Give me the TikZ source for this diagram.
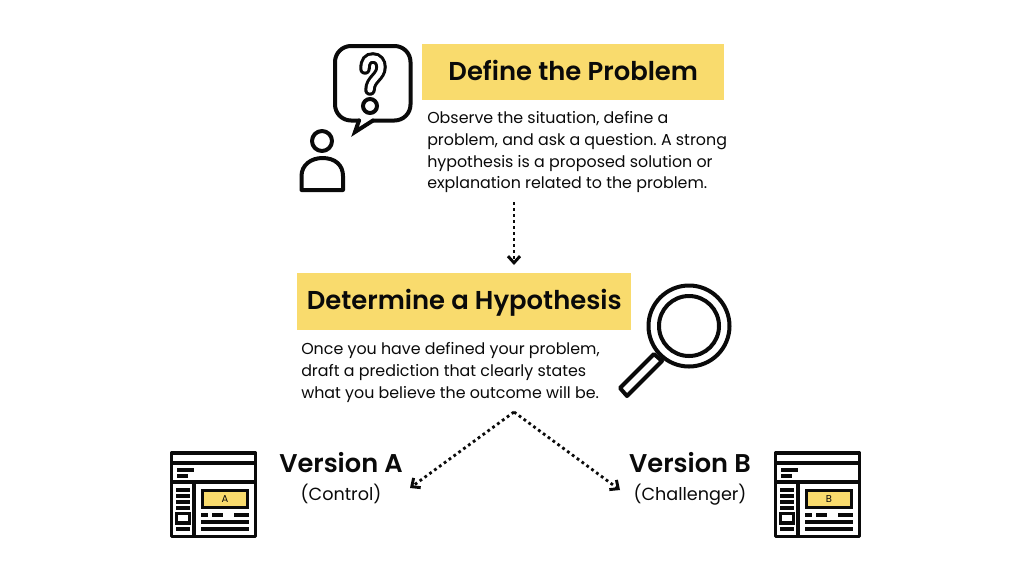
\documentclass[tikz,border=0pt]{standalone}
\usepackage{fontspec}
\setmainfont{Poppins}
\newfontfamily\semibold{Poppins SemiBold}
\usetikzlibrary{arrows.meta}
\usetikzlibrary{positioning}
\definecolor{myellow}{HTML}{F9DB6D}
\definecolor{mink}{HTML}{0A0A0A}

\begin{document}
\frenchspacing
\begin{tikzpicture}[x=0.75pt,y=-0.75pt,
		titlenode/.style={fill=myellow,text=mink,font=\semibold\fontsize{19.4}{22}\selectfont,inner sep=0pt,anchor=west,align=center,text height=15pt,text depth=3pt},
		bodynode/.style={text=mink,font=\fontsize{11.9}{16.4}\selectfont,align=left,inner sep=0pt},
		versionnode/.style={text=mink,font=\semibold\fontsize{19.25}{22}\selectfont,inner sep=0pt},
		rolenode/.style={text=mink,font=\fontsize{13.2}{16}\selectfont,inner sep=0pt},
		flowline/.style={draw=mink,line width=2.1pt,dash pattern=on 2.1pt off 2.4pt,-{Straight Barb[length=5pt,width=9pt,line width=2.2pt]}},
		iconline/.style={draw=mink,line width=3pt,line join=round,line cap=round},
		thinline/.style={draw=mink,line width=2.45pt}
	]
	\useasboundingbox (0,0) rectangle (1024,562);
	\fill[white] (0,0) rectangle (1024,562);

	% the two headings
	\node[titlenode,minimum width=226.5pt,minimum height=42pt] (define) at (422,72) {Define the Problem};
	\node[titlenode,minimum width=250.5pt,minimum height=43pt] (hypothesis) at (297,301.5) {Determine a Hypothesis};

	% the texts below them
	\node[bodynode,anchor=north west] (definetext) at (427,111) {Observe the situation, define a\\problem, and ask a question. A strong\\hypothesis is a proposed solution or\\explanation related to the problem.};
	\node[bodynode,anchor=north west] (hypothesistext) at (301,342) {Once you have defined your problem,\\draft a prediction that clearly states\\what you believe the outcome will be.};

	% the versions
	\node[versionnode] (versiona) at (341,463) {Version A};
	\node[rolenode,below=8pt of versiona.base] (control) {(Control)};
	\node[versionnode] (versionb) at (690,463) {Version B};
	\node[rolenode,below=8pt of versionb.base] (challenger) {(Challenger)};

	% the arrows
	\coordinate (definefoot) at (514,202);
	\coordinate (hypothesishead) at (514,265);
	\coordinate (split) at (514,412);
	\coordinate (lefthead) at (410,488);
	\coordinate (righthead) at (620,490);
	\draw[flowline] (definefoot) -- (hypothesishead);
	\draw[flowline] (split) -- (lefthead);
	\draw[flowline] (split) -- (righthead);

	% the speech bubble
	\draw[iconline,rounded corners=12pt] (359,120.5) -- (335,120.5) -- (335,46) -- (410.5,46) -- (410.5,120.5) -- (373,120.5);
	\draw[iconline,line join=miter] (359,120.5) -- (355,132) -- (373,120.5);
	\draw[draw=mink,line width=2.3pt,double=white,double distance=4pt,line cap=round]
		(365,69) .. controls (365,61) and (368,58) .. (373,58)
		.. controls (378,58) and (381,62) .. (381,67)
		.. controls (381,77) and (370,79) .. (370,90);
	\draw[draw=mink,line width=3pt] (370,106) circle (7);

	% the person
	\draw[iconline] (322,141) circle (10);
	\draw[iconline] (301.5,190) -- (301.5,176) .. controls (301.5,165) and (311,158) .. (322.5,158)
		.. controls (335,158) and (343,165) .. (343,176) -- (343,190) -- cycle;

	% the magnifier
	\draw[iconline] (689,326) circle (40.5);
	\draw[iconline] (689,326) circle (30);
	\draw[iconline] (654,354) -- (662,361) -- (627,396) -- (620,388) -- cycle;

	% the two pages
	\foreach \xoff/\letter in {0/A,604/B}
	{
		\begin{scope}[xshift=\xoff*0.75pt]
			\draw[thinline,line join=round] (171.5,453) rectangle (255.5,536.5);
			\draw[thinline] (171,463) -- (256,463);
			\draw[thinline] (171,482) -- (256,482);
			\draw[thinline] (194,482) -- (194,536);
			\draw[thinline] (177,470) -- (194,470);
			\draw[thinline] (177,476) -- (188,476);
			\foreach \ypos in {490,496,502,508,529}
				\draw[thinline] (176,\ypos) -- (190,\ypos);
			\draw[thinline] (176.5,513.5) rectangle (189.5,523);
			\node[draw=mink,line width=2.45pt,fill=myellow,text=mink,minimum width=34pt,minimum height=12.5pt,inner sep=0pt,font=\fontsize{7.5}{8}\selectfont] (banner\letter) at (225,499) {\letter};
			\draw[thinline] (201,515) -- (208,515);
			\draw[thinline] (212,515) -- (223,515);
			\draw[thinline] (234,515) -- (249,515);
			\draw[thinline] (201,522) -- (249,522);
			\draw[thinline] (201,529) -- (249,529);
		\end{scope}
	}
\end{tikzpicture}
\end{document}
